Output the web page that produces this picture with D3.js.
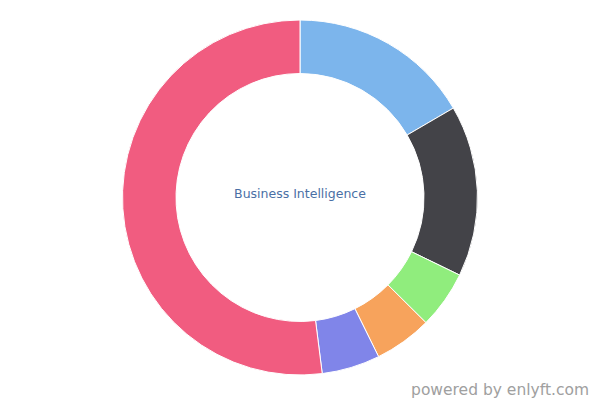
<!DOCTYPE html>
<html><head><meta charset="utf-8">
<script src="https://cdn.jsdelivr.net/npm/d3@7"></script>
<style>body{margin:0;background:#fff}svg{display:block}</style>
</head><body>
<svg id="chart" width="600" height="400"></svg>
<script>
const categories = ["A", "B", "C", "D", "E", "F"];
const values = [16.6, 15.6, 5.25, 5.25, 5.3, 52.0];
const colors = ["#7cb5ec", "#434348", "#90ed7d", "#f7a35c", "#8085e9", "#f15c80"];
const centerLabel = "Business Intelligence";
const credit = "powered by enlyft.com";

const svg = d3.select("#chart");
const cx = 300, cy = 197.5, outerR = 177.5, innerR = 124;
const pie = d3.pie().sort(null).value(d => d)(values);
const arc = d3.arc().innerRadius(innerR).outerRadius(outerR);
const g = svg.append("g").attr("transform", `translate(${cx},${cy})`);
g.selectAll("path").data(pie).join("path")
  .attr("d", arc)
  .attr("fill", (d, i) => colors[i])
  .attr("stroke", "#fff").attr("stroke-width", 1).attr("stroke-linejoin", "round");
g.append("text").attr("text-anchor", "middle").attr("y", -4).attr("dy", "0.35em")
  .attr("font-family", "DejaVu Sans, sans-serif").attr("font-size", 12.5)
  .attr("fill", "#4a6fa5").text(centerLabel);
svg.append("text").attr("x", 589).attr("y", 395).attr("text-anchor", "end")
  .attr("font-family", "DejaVu Sans, sans-serif").attr("font-size", 15.5)
  .attr("fill", "#a0a0a0").text(credit);
</script>
</body></html>
